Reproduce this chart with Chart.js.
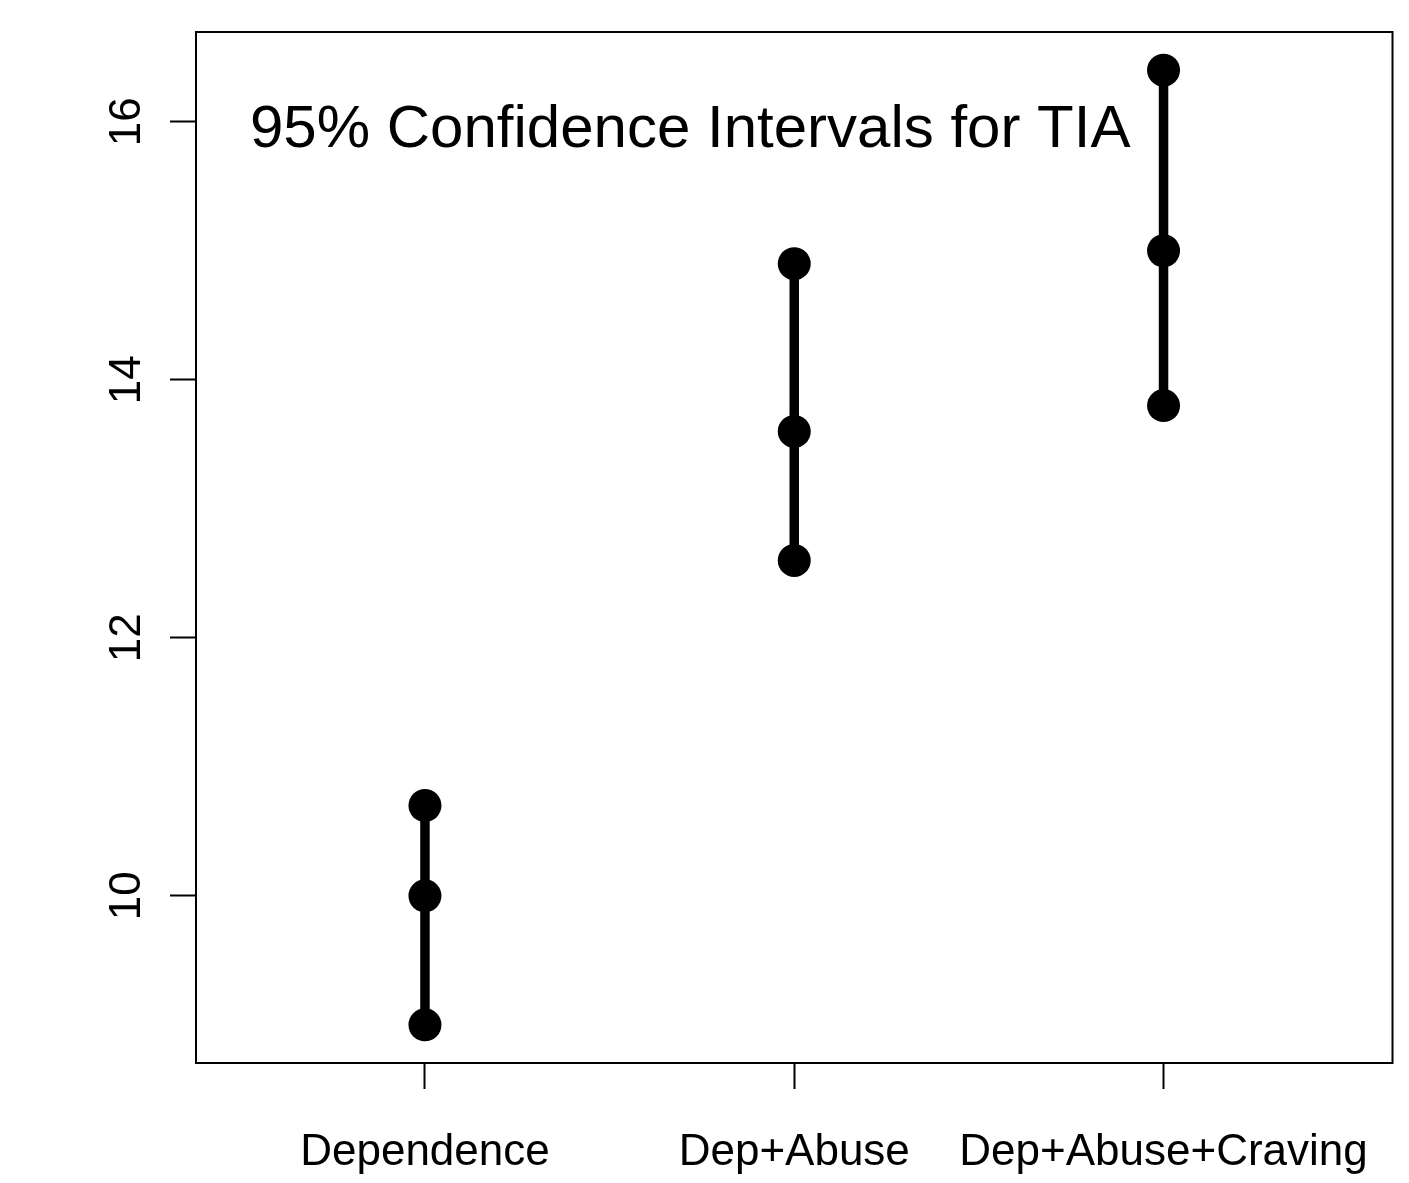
<!DOCTYPE html>
<html>
<head>
<meta charset="utf-8">
<script src="https://cdn.jsdelivr.net/npm/chart.js@4/dist/chart.umd.min.js"></script>
<style>
  html, body { margin: 0; padding: 0; background: #fff; overflow: hidden; }
  #wrap { width: 1409px; height: 1183px; position: relative; }
</style>
</head>
<body>
<div id="wrap"><canvas id="c"></canvas></div>
<script>
// ---- Data ----
const categories = ["Dependence", "Dep+Abuse", "Dep+Abuse+Craving"];
const lowerCI = [9.0, 12.6, 13.8];
const meanVal = [10.0, 13.6, 15.0];
const upperCI = [10.7, 14.9, 16.4];
const yTickValues = [10, 12, 14, 16];
const chartTitle = "95% Confidence Intervals for TIA";

const FONT = "'Liberation Sans', Arial, Helvetica, sans-serif";

const datasets = categories.map((cat, i) => ({
  label: cat,
  data: [
    { x: i + 1, y: lowerCI[i] },
    { x: i + 1, y: meanVal[i] },
    { x: i + 1, y: upperCI[i] }
  ],
  showLine: true,
  borderColor: '#000',
  backgroundColor: '#000',
  borderWidth: 9.5,
  pointRadius: 16.5,
  pointHoverRadius: 16.5,
  pointBorderWidth: 0,
  pointBackgroundColor: '#000'
}));

const zeroPad = () => ({ left: 0, top: 0, right: 0, bottom: 0 });

const boxPlugin = {
  id: 'box',
  afterDraw(chart) {
    const { ctx, chartArea: a } = chart;
    ctx.save();
    ctx.strokeStyle = '#000';
    ctx.lineWidth = 2;
    ctx.strokeRect(a.left, a.top, a.right - a.left, a.bottom - a.top);
    ctx.fillStyle = '#000';
    ctx.font = '60px ' + FONT;
    ctx.textAlign = 'left';
    ctx.textBaseline = 'alphabetic';
    ctx.fillText(chartTitle, a.left + 54, a.top + 115);
    ctx.restore();
  }
};

new Chart(document.getElementById('c'), {
  type: 'scatter',
  data: { datasets },
  options: {
    responsive: true,
    maintainAspectRatio: false,
    animation: false,
    layout: { padding: { top: 32, right: 13, left: 0, bottom: 0 } },
    plugins: {
      legend: { display: false },
      tooltip: { enabled: false },
      title: { display: false }
    },
    scales: {
      x: {
        type: 'linear',
        min: 0.38,
        max: 3.62,
        afterBuildTicks(s) { s.ticks = categories.map((c, i) => ({ value: i + 1 })); },
        afterFit(s) { s.height = 120; s.paddingLeft = 0; s.paddingRight = 0; s.getPadding = zeroPad; },
        ticks: {
          autoSkip: false,
          maxRotation: 0,
          minRotation: 0,
          color: '#000',
          font: { family: FONT, size: 44 },
          padding: 37,
          callback: (v) => categories[Math.round(v) - 1]
        },
        grid: {
          display: true,
          drawOnChartArea: false,
          drawTicks: true,
          tickLength: 26,
          tickColor: '#000',
          tickWidth: 2,
          color: '#000'
        },
        border: { display: true, color: '#000', width: 2 }
      },
      y: {
        type: 'linear',
        min: 8.704,
        max: 16.696,
        afterBuildTicks(s) { s.ticks = yTickValues.map(v => ({ value: v })); },
        afterFit(s) { s.width = 196; s.paddingTop = 0; s.paddingBottom = 0; s.getPadding = zeroPad; },
        ticks: {
          autoSkip: false,
          minRotation: 90,
          maxRotation: 90,
          crossAlign: 'center',
          color: '#000',
          font: { family: FONT, size: 44 },
          padding: 18,
          callback: (v) => String(v)
        },
        grid: {
          display: true,
          drawOnChartArea: false,
          drawTicks: true,
          tickLength: 26,
          tickColor: '#000',
          tickWidth: 2,
          color: '#000'
        },
        border: { display: true, color: '#000', width: 2 }
      }
    }
  },
  plugins: [boxPlugin]
});
</script>
</body>
</html>
